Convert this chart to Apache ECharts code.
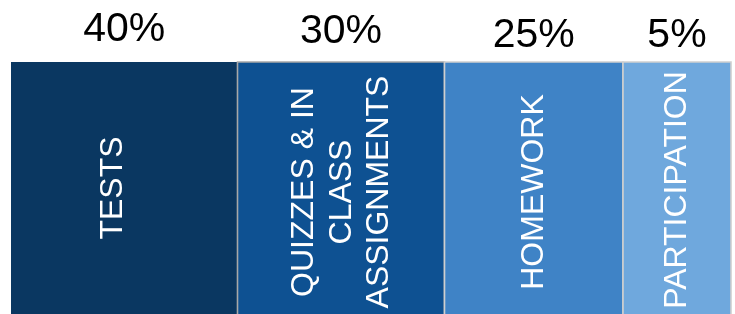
<!DOCTYPE html>
<html>
<head>
<meta charset="utf-8">
<script src="https://cdn.jsdelivr.net/npm/echarts@6/dist/echarts.min.js"></script>
<style>
html,body{margin:0;padding:0;background:#fff;}
#chart{width:735px;height:314px;}
</style>
</head>
<body>
<div id="chart"></div>
<script>
// Data
var categories = ['TESTS', 'QUIZZES & IN\nCLASS\nASSIGNMENTS', 'HOMEWORK', 'PARTICIPATION'];
var weights = [40, 30, 25, 5];
var weightLabels = ['40%', '30%', '25%', '5%'];
// column spans of the table (relative widths)
var columnSpans = [226.5, 207, 178.5, 108];

// Styles (kept apart from data)
var fills = ['#0a3761', '#0e5192', '#3f83c6', '#6fa8dd'];
var strokes = ['#0a3761', '#a8a8a8', '#cfcfcf', '#cfcfcf'];
var labelCenterY = [29.5, 31.5, 36, 36];
var innerDx = [-11, 1, 0, 0];
var innerDy = [0, 4, 4, 2];

var starts = [];
var acc = 0;
for (var i = 0; i < columnSpans.length; i++) { starts.push(acc); acc += columnSpans[i]; }
var total = acc;

var data = categories.map(function (c, i) {
  return [starts[i], starts[i] + columnSpans[i], weights[i], i];
});

var chart = echarts.init(document.getElementById('chart'), null, { renderer: 'canvas' });
chart.setOption({
  animation: false,
  grid: { left: 11, right: 4, top: 62, bottom: 0 },
  xAxis: { type: 'value', min: 0, max: total, show: false },
  yAxis: { type: 'value', min: 0, max: 1, show: false },
  series: [{
    type: 'custom',
    clip: false,
    data: data,
    encode: { x: [0, 1] },
    renderItem: function (params, api) {
      var idx = api.value(3);
      var p0 = api.coord([api.value(0), 1]);
      var p1 = api.coord([api.value(1), 0]);
      var x = p0[0], y = p0[1], w = p1[0] - p0[0], h = p1[1] - p0[1];
      var cx = x + w / 2, cy = y + h / 2;
      return {
        type: 'group',
        children: [
          {
            type: 'rect',
            shape: { x: x, y: y, width: w, height: h + 2 },
            style: { fill: fills[idx], stroke: strokes[idx], lineWidth: idx === 0 ? 0 : 1.6 }
          },
          {
            type: 'text',
            x: cx + innerDx[idx], y: cy + innerDy[idx],
            rotation: Math.PI / 2,
            style: {
              text: categories[idx],
              fill: '#ffffff',
              font: '32px "Liberation Sans", Arial, sans-serif',
              align: 'center',
              verticalAlign: 'middle',
              lineHeight: 37.5
            }
          },
          {
            type: 'text',
            x: cx, y: labelCenterY[idx],
            style: {
              text: weightLabels[idx],
              fill: '#000000',
              font: '41px "Liberation Sans", Arial, sans-serif',
              align: 'center',
              verticalAlign: 'middle'
            }
          }
        ]
      };
    }
  }]
});
</script>
</body>
</html>
